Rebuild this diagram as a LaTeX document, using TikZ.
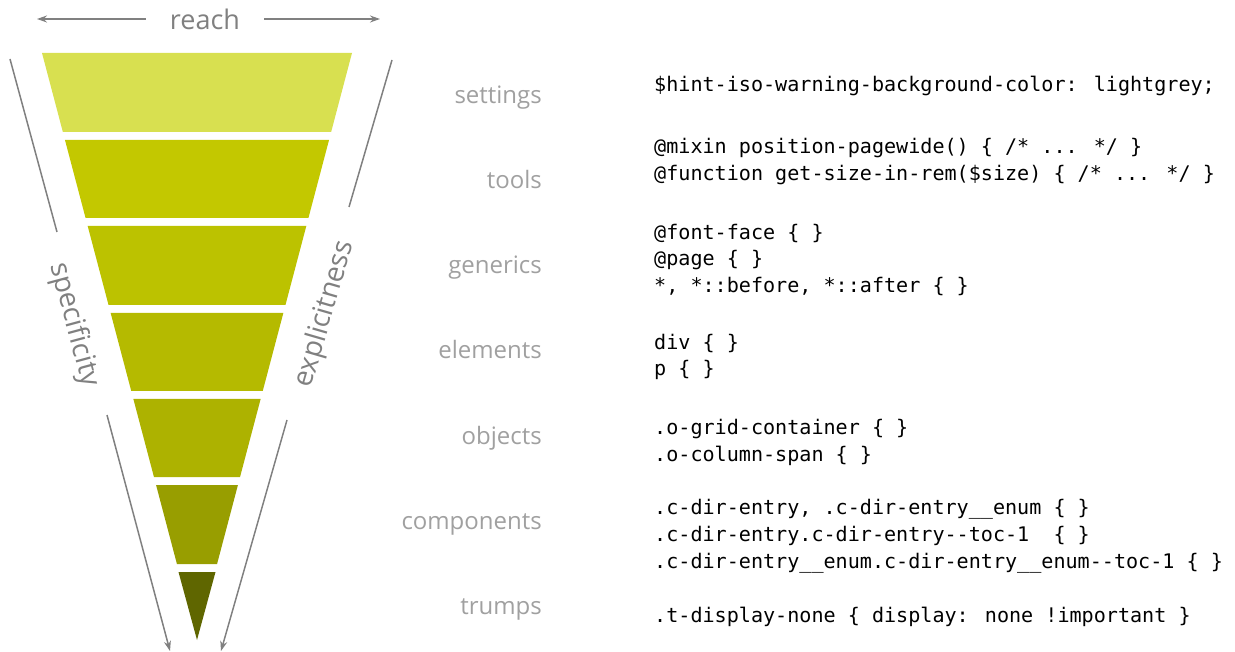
\documentclass[tikz,border=0pt]{standalone}
\usepackage{fontspec}
\setmainfont{Open Sans}
\newfontfamily\codefont{DejaVu Sans Mono}
\usetikzlibrary{arrows.meta}
\definecolor{bandA}{RGB}{216,224,80}
\definecolor{bandB}{RGB}{195,200,0}
\definecolor{bandC}{RGB}{188,194,0}
\definecolor{bandD}{RGB}{181,186,0}
\definecolor{bandE}{RGB}{173,178,0}
\definecolor{bandF}{RGB}{152,158,0}
\definecolor{bandG}{RGB}{95,102,0}
\definecolor{axisgray}{RGB}{128,128,128}
\definecolor{labelgray}{RGB}{160,160,160}
\tikzset{
  axisline/.style={draw=axisgray, line width=1.5pt},
  axisarrow/.style={axisline, -{Stealth[length=10pt,width=7pt]}},
  axistext/.style={text=axisgray, font=\fontsize{28}{32}\selectfont, inner sep=0pt},
  layerlabel/.style={text=labelgray, font=\fontsize{24}{28}\selectfont, anchor=mid east, inner sep=0pt},
  code/.style={font=\codefont\fontsize{20.1}{26.7}\selectfont, anchor=mid west, inner sep=0pt, text=black},
}
\newcommand{\band}[3]{%
  \pgfmathsetmacro{\lt}{42+0.26405*(#1-53)}%
  \pgfmathsetmacro{\rt}{394-\lt}%
  \pgfmathsetmacro{\lb}{42+0.26405*(#2-53)}%
  \pgfmathsetmacro{\rb}{394-\lb}%
  \fill[#3] (\lt,#1) -- (\rt,#1) -- (\rb,#2) -- (\lb,#2) -- cycle;}
\begin{document}
\begin{tikzpicture}[x=1pt,y=-1pt]
\useasboundingbox (0,0) rectangle (1235,652);
\band{53}{132}{bandA}
\band{140}{218}{bandB}
\band{226}{305}{bandC}
\band{313}{391}{bandD}
\band{399}{477}{bandE}
\band{485}{564}{bandF}
\fill[bandG] (178.5,572) -- (215.5,572) -- (197,640) -- cycle;

% reach
\node[axistext, font=\fontsize{27}{32}\selectfont] (reach) at (205,19) {reach};
\coordinate (reachL) at (37,19);
\coordinate (reachR) at (380,19);
\draw[axisarrow] (reach.west) ++(-24,0) coordinate (rl0) -- (reachL);
\draw[axisarrow] (reach.east) ++(24,0) coordinate (rr0) -- (reachR);

% specificity (left)
\coordinate (sTop) at (10,59);
\coordinate (sMidA) at (57,232);
\coordinate (sMidB) at (107,415);
\coordinate (sTip) at (170,651);
\draw[axisline] (sTop) -- (sMidA);
\draw[axisarrow] (sMidB) -- (sTip);
\node[axistext, rotate=-74.88] (spec) at (74,325) {specificity};

% explicitness (right)
\coordinate (eTop) at (392,60);
\coordinate (eMidA) at (349,207);
\coordinate (eMidB) at (287,420);
\coordinate (eTip) at (221,651);
\draw[axisline] (eTop) -- (eMidA);
\draw[axisarrow] (eMidB) -- (eTip);
\node[axistext, rotate=73.86] (expl) at (325,314) {explicitness};

% layer labels
\node[layerlabel] (l1) at (542,101) {settings};
\node[layerlabel] (l2) at (542,186) {tools};
\node[layerlabel] (l3) at (542,271) {generics};
\node[layerlabel] (l4) at (542,356) {elements};
\node[layerlabel] (l5) at (542,442) {objects};
\node[layerlabel] (l6) at (542,527) {components};
\node[layerlabel] (l7) at (542,612) {trumps};

% code
\node[code] (c1) at (654,89) {\$hint-iso-warning-background-color: lightgrey;};
\node[code] (c2) at (654,151) {@mixin position-pagewide() \{ /* ... */ \}};
\node[code] (c3) at (654,178) {@function get-size-in-rem(\$size) \{ /* ... */ \}};
\node[code] (c4) at (654,237) {@font-face \{ \}};
\node[code] (c5) at (654,263) {@page \{ \}};
\node[code] (c6) at (654,290) {*, *::before, *::after \{ \}};
\node[code] (c7) at (654,347) {div \{ \}};
\node[code] (c8) at (654,373) {p \{ \}};
\node[code] (c9) at (654,432) {.o-grid-container \{ \}};
\node[code] (c10) at (654,459) {.o-column-span \{ \}};
\node[code] (c11) at (654,512) {.c-dir-entry, .c-dir-entry\_\_enum \{ \}};
\node[code] (c12) at (654,539) {.c-dir-entry.c-dir-entry-{}-toc-1\ \ \{ \}};
\node[code] (c13) at (654,566) {.c-dir-entry\_\_enum.c-dir-entry\_\_enum-{}-toc-1 \{ \}};
\node[code] (c14) at (654,620) {.t-display-none \{ display: none !important \}};
\end{tikzpicture}
\end{document}
